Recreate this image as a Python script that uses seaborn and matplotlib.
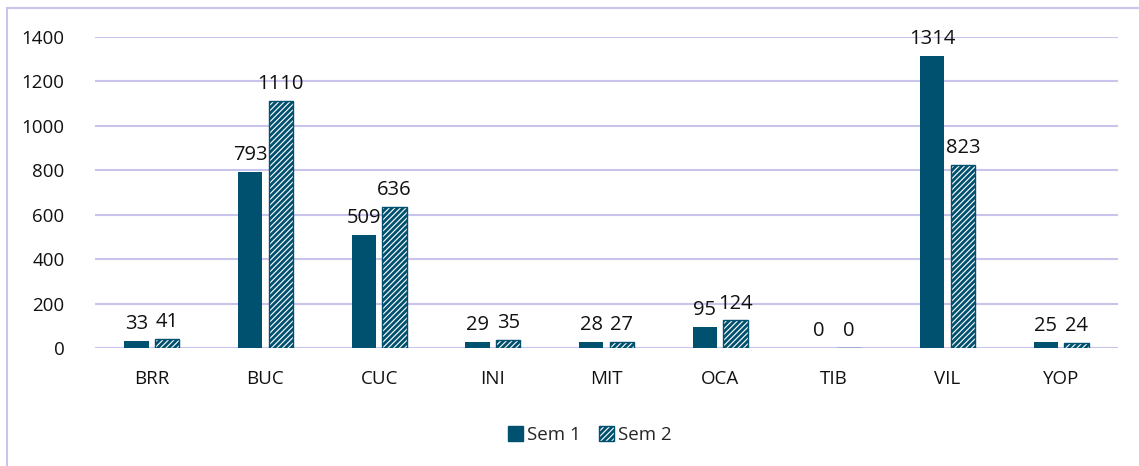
import matplotlib
matplotlib.use("Agg")
import matplotlib.pyplot as plt
import seaborn as sns
import pandas as pd
from matplotlib.patches import Rectangle, Patch

categories = ["BRR", "BUC", "CUC", "INI", "MIT", "OCA", "TIB", "VIL", "YOP"]
sem1 = [33, 793, 509, 29, 28, 95, 0, 1314, 25]
sem2 = [41, 1110, 636, 35, 27, 124, 0, 823, 24]
series = ["Sem 1", "Sem 2"]
y_ticks = [0, 200, 400, 600, 800, 1000, 1200, 1400]

teal = "#00506f"
grid_color = "#c9c4ec"

sns.set_style("white")
plt.rcParams["font.family"] = ["Open Sans", "DejaVu Sans"]
plt.rcParams["hatch.linewidth"] = 2.0

df = pd.DataFrame({
    "cat": categories * 2,
    "value": sem1 + sem2,
    "series": [series[0]] * len(categories) + [series[1]] * len(categories),
})

fig = plt.figure(figsize=(11.39, 4.66), dpi=100)
ax = fig.add_axes([95 / 1139, 1 - 348 / 466, (1118 - 95) / 1139, (348 - 37) / 466])

sns.barplot(
    data=df, x="cat", y="value", hue="series", order=categories,
    hue_order=series, palette=[teal, teal], width=0.54, gap=0.2,
    legend=False, ax=ax, saturation=1,
)

# Style the second series as hatched bars
for bar in ax.containers[1]:
    bar.set_facecolor("white")
    bar.set_edgecolor(teal)
    bar.set_hatch("//////")
    bar.set_linewidth(1)
for bar in ax.containers[0]:
    bar.set_linewidth(0)

for cont in ax.containers:
    ax.bar_label(cont, padding=5, fontsize=14.5, color="#111111", clip_on=False)

ax.set_ylim(0, 1400)
ax.set_yticks(y_ticks)
ax.set_xlim(-0.5, len(categories) - 0.5)
ax.yaxis.grid(True, color=grid_color, linewidth=1.5)
ax.set_axisbelow(True)
for s in ax.spines.values():
    s.set_visible(False)
ax.tick_params(axis="both", length=0, labelsize=13.5, colors="#111111")
ax.tick_params(axis="y", pad=22)
ax.tick_params(axis="x", pad=16)
ax.set_xlabel("")
ax.set_ylabel("")

handles = [
    Patch(facecolor=teal, edgecolor=teal, label=series[0]),
    Patch(facecolor="white", edgecolor=teal, hatch="//////", label=series[1]),
]
fig.legend(
    handles=handles, loc="center", bbox_to_anchor=(590 / 1139, 1 - 435 / 466),
    ncol=2, frameon=False, fontsize=13.5, handlelength=0.8, handleheight=0.8,
    handletextpad=0.2, columnspacing=1.0,
)

# Chart frame
fig.patches.append(Rectangle(
    (7 / 1139, -0.1), 1.2, 1 - 8 / 466 + 0.1, transform=fig.transFigure,
    fill=False, edgecolor=grid_color, linewidth=1.5,
))

fig.savefig("out.png", dpi=100)
